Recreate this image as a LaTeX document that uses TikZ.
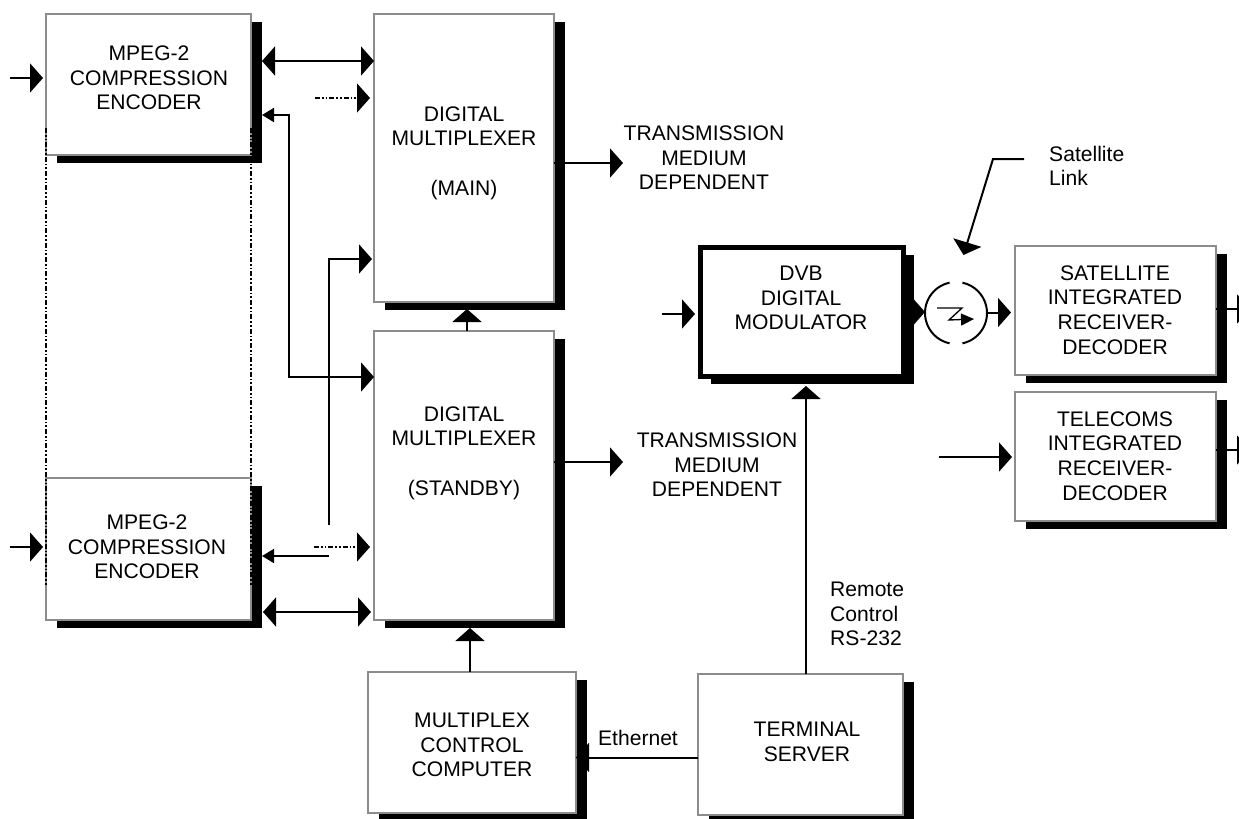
\documentclass[tikz,border=0pt]{standalone}
\usepackage{fontspec}
\setmainfont{Liberation Sans}
\usetikzlibrary{arrows.meta,calc,shadows}
\definecolor{rand}{HTML}{8C8C8C}
\tikzset{
  big/.tip={Triangle[length=3.9mm,width=8.7mm]},
  small/.tip={Triangle[length=3.6mm,width=4.2mm]},
  unit/.style 2 args={draw=rand,fill=white,line width=0.6mm,outer sep=0pt,
    minimum width=#1*0.3mm,minimum height=#2*0.3mm,
    general shadow={fill=black,shadow xshift=3.3mm,shadow yshift=-2.3mm}},
  txt/.style={align=center,font=\fontsize{18}{21}\selectfont,inner sep=0pt},
  txtl/.style={txt,align=left},
  conn/.style={line width=0.6mm,black},
  pfeil/.style={conn,-big},
  beide/.style={conn,big-big},
  strich/.style={black,line width=0.45mm,dash pattern=on 1.5mm off 0.6mm on 0.5mm off 0.6mm on 0.5mm off 0.6mm},
}
\begin{document}
\begin{tikzpicture}[x=0.3mm,y=-0.3mm]
  \clip (0,0) rectangle (1239,818);
  % boxes
  \node[unit={205}{141}] (enc1) at (148.5,84.5) {};
  \node[unit={205}{142}] (enc2) at (148.5,549) {};
  \node[unit={180}{288}] (mux1) at (464,158) {};
  \node[unit={180}{289}] (mux2) at (464,475.5) {};
  \node[unit={208}{141}] (ctrl) at (472,742.5) {};
  \node[unit={205}{141}] (term) at (800.5,744.5) {};
  \node[unit={203}{129},draw=black,line width=1.5mm] (dvb) at (801.5,311.5) {};
  \node[unit={201}{129}] (sat) at (1115.5,310.5) {};
  \node[unit={201}{129}] (tele) at (1115.5,456.5) {};
  \node[minimum size=18.6mm,inner sep=0pt,outer sep=0pt,circle] (link) at (956,313) {};
  % box texts
  \node[txt] (enc1t) at (149,78) {MPEG-2\\COMPRESSION\\ENCODER};
  \node[txt] (enc2t) at (147,547) {MPEG-2\\COMPRESSION\\ENCODER};
  \node[txt] (mux1t) at (464,153) {DIGITAL\\MULTIPLEXER\\[21pt](MAIN)};
  \node[txt] (mux2t) at (464,453) {DIGITAL\\MULTIPLEXER\\[21pt](STANDBY)};
  \node[txt] (ctrlt) at (472,745) {MULTIPLEX\\CONTROL\\COMPUTER};
  \node[txt] (termt) at (807,742) {TERMINAL\\SERVER};
  \node[txt] (dvbt) at (801,298) {DVB\\DIGITAL\\MODULATOR};
  \node[txt] (satt) at (1115,310) {SATELLITE\\INTEGRATED\\RECEIVER-\\DECODER};
  \node[txt] (telet) at (1115,456) {TELECOMS\\INTEGRATED\\RECEIVER-\\DECODER};
  % other labels
  \node[txt] (med1) at (704,158) {TRANSMISSION\\MEDIUM\\DEPENDENT};
  \node[txt] (med2) at (717,465) {TRANSMISSION\\MEDIUM\\DEPENDENT};
  \node[txtl,anchor=west] (linkt) at (1049,166) {Satellite\\Link};
  \node[txtl,anchor=west] (rem) at (830,614) {Remote\\Control\\RS-232};
  \node[txt] (eth) at (638,738) {Ethernet};
  % free ends
  \coordinate (in1) at (10,78);
  \coordinate (in2) at (10,547);
  \coordinate (in3) at (662,314);
  \coordinate (in4) at (939,457);
  \coordinate (dash1) at (315,98);
  \coordinate (dash2) at (314,547);
  \coordinate (bus1) at (289,377);
  \coordinate (bus2) at (329,525);
  \coordinate (bus3) at (329,259);
  \coordinate (bus4) at (329,556);
  \coordinate (h1) at (0,61);
  \coordinate (h2) at (0,612);
  \coordinate (h3) at (0,115);
  \coordinate (out1) at (623,163);
  \coordinate (out2) at (623,462);
  \coordinate (out3) at (1250,309);
  \coordinate (out4) at (1250,450);
  \coordinate (up1) at (467,309);
  \coordinate (up2) at (470,628);
  \coordinate (up3) at (806,386);
  \coordinate (back) at (576,757.5);
  \coordinate (sl1) at (1024,159);
  \coordinate (sl2) at (993,159);
  \coordinate (sl3) at (963.5,255);
  \coordinate (dvbtip) at (925,312);
  \coordinate (sattip) at (1011,312.5);
  % inputs
  \draw[pfeil] (in1) -- (43,78);
  \draw[pfeil] (in2) -- (43,547);
  \draw[pfeil] (in3) -- (695,314);
  \draw[pfeil] (in4) -- (1012,457);
  % encoders to multiplexers
  \draw[beide] (enc1.east |- h1) ++(11,0) -- (mux1.west |- h1);
  \draw[beide] (enc2.east |- h2) ++(12,0) -- ($(mux2.west |- h2)+(-3,0)$);
  \draw[strich,-big] (dash1) -- ($(mux1.west |- dash1)+(-4,0)$);
  \draw[strich,-big] (dash2) -- ($(mux2.west |- dash2)+(-4,0)$);
  \draw[conn,small-big] (enc1.east |- h3) ++(11,0) -| (bus1) -- (mux2.west |- bus1);
  \draw[conn,-big] (bus2) -- (bus3) -- ($(mux1.west |- bus3)+(-2,0)$);
  \draw[conn,-small] (bus4) -- ($(enc2.east |- bus4)+(11,0)$);
  % outputs
  \draw[pfeil] (mux1.east |- out1) -- (out1);
  \draw[pfeil] (mux2.east |- out2) -- (out2);
  \draw[pfeil] (sat.east |- out3) -- (out3);
  \draw[pfeil] (tele.east |- out4) -- (out4);
  % vertical links
  \draw[pfeil] (mux2.north -| up1) -- (up1);
  \draw[pfeil] (ctrl.north -| up2) -- (up2);
  \draw[pfeil] (term.north -| up3) -- (up3);
  \draw[pfeil] (term.west |- back) -- (back);
  % satellite link
  \draw[pfeil] (dvb.east |- dvbtip) -- (dvbtip);
  \draw[pfeil] (link.east |- sattip) -- (sattip);
  \draw[pfeil] (sl1) -- (sl2) -- (sl3);
  \draw[conn] (link.center) ++(102:9.3mm) arc[start angle=102,end angle=258,radius=9.3mm];
  \draw[conn] (link.center) ++(-78:9.3mm) arc[start angle=-78,end angle=78,radius=9.3mm];
  \draw[conn,line width=0.4mm,-{Triangle[length=3.9mm,width=3.6mm]}] ($(link.center)+(-19,-5)$) -- ++(25,0) -- ++(-13,12) -- ++(25,-1);
  % spare encoder lines
  \draw[strich] (enc1.west |- 0,128) -- (enc2.west |- 0,586);
  \draw[strich] (enc1.east |- 0,128) -- (enc2.east |- 0,586);
\end{tikzpicture}
\end{document}
